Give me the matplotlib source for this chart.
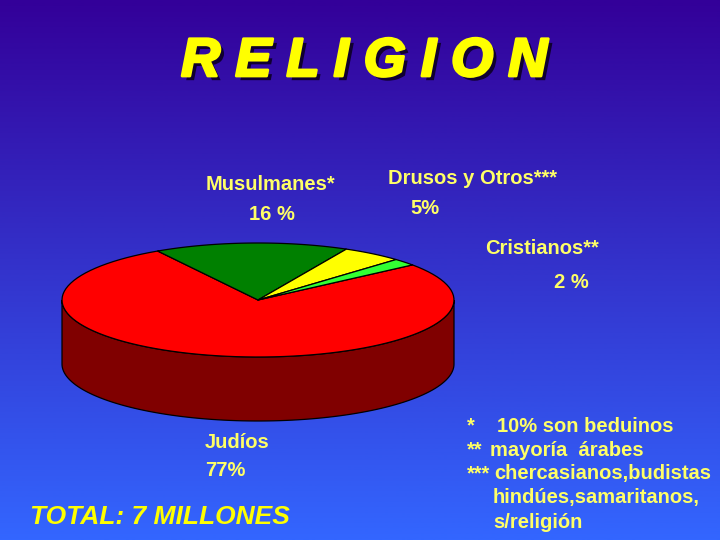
import numpy as np
import matplotlib.pyplot as plt
import matplotlib.patheffects as pe
from matplotlib.patches import Polygon

# data
religiones = ['Judíos', 'Musulmanes*', 'Drusos y Otros***', 'Cristianos**']
porcentajes = [77, 16, 5, 2]
etiquetas_pct = ['77%', '16 %', '5%', '2 %']
colores = ['#ff0000', '#008000', '#ffff00', '#33ff33']
colores_lado = ['#800000', '#004000', '#808000', '#1a801a']
marcas = ['*', '**', '***', '', '']
notas = ['10% son beduinos', 'mayoría  árabes', 'chercasianos,budistas',
         'hindúes,samaritanos,', 's/religión']

plt.rcParams['font.family'] = ['Liberation Sans', 'DejaVu Sans']

fig = plt.figure(figsize=(7.2, 5.4), dpi=100)
ax = fig.add_axes([0, 0, 1, 1])
ax.set_xlim(0, 720)
ax.set_ylim(540, 0)
ax.axis('off')

# background gradient
top = np.array([51, 0, 153]) / 255
bot = np.array([51, 102, 255]) / 255
t = np.linspace(0, 1, 256)[:, None]
grad = (top * (1 - t) + bot * t)[:, None, :]
ax.imshow(grad, extent=[0, 720, 540, 0], aspect='auto', zorder=0)

# title
ax.text(364, 62, 'R E L I G I O N', color='#ffff00', fontsize=39,
        fontweight='bold', style='italic', ha='center', va='center',
        path_effects=[pe.withSimplePatchShadow(offset=(3, -3),
                                               shadow_rgbFace='#100030', alpha=1),
                      pe.withStroke(linewidth=2, foreground='#ffff00')],
        zorder=5)

# 3D pie
cx, cy, rx, ry, depth = 258, 300, 196, 57, 64
start = 38.0
angs = []
a = start
for v in porcentajes[::-1]:
    angs.append((a, a + v * 3.6))
    a += v * 3.6
angs = angs[::-1]


def arc(a0, a1, dy=0, n=100):
    th = np.radians(np.linspace(a0, a1, n))
    return np.column_stack([cx + rx * np.cos(th), cy - ry * np.sin(th) + dy])


# sides (front half: 180..360 deg)
for (a0, a1), col in zip(angs, colores_lado):
    for k in (-360, 0, 360):
        lo = max(a0 + k, 180)
        hi = min(a1 + k, 360)
        if hi > lo:
            up = arc(lo, hi)
            dn = arc(hi, lo, dy=depth)
            ax.add_patch(Polygon(np.vstack([up, dn]), closed=True, fc=col,
                                 ec='black', lw=0.9, zorder=2))

# tops
for (a0, a1), col in zip(angs, colores):
    pts = np.vstack([[cx, cy], arc(a0, a1)])
    ax.add_patch(Polygon(pts, closed=True, fc=col, ec='black', lw=0.9,
                         joinstyle='round', zorder=3))

# labels
txt = dict(color='#ffff66', fontsize=14.5, fontweight='bold', zorder=5)
ax.text(270, 185, religiones[1], ha='center', va='center', **txt)
ax.text(272, 214, etiquetas_pct[1], ha='center', va='center', **txt)
ax.text(472, 179, religiones[2], ha='center', va='center', **txt)
ax.text(425, 208, etiquetas_pct[2], ha='center', va='center', **txt)
ax.text(542, 248, religiones[3], ha='center', va='center', **txt)
ax.text(571, 283, etiquetas_pct[3], ha='center', va='center', **txt)
ax.text(205, 442, religiones[0], ha='left', va='center', **txt)
ax.text(205, 470, etiquetas_pct[0], ha='left', va='center', **txt)

notas_x = [497, 490, 494, 493, 493]
for i, (m, n) in enumerate(zip(marcas, notas)):
    y = 426 + i * 24
    if m:
        ax.text(467, y, m, ha='left', va='center', **txt)
    ax.text(notas_x[i], y, n, ha='left', va='center', **txt)

ax.text(30, 517, 'TOTAL: 7 MILLONES', color='#ffff00', fontsize=19,
        fontweight='bold', style='italic', ha='left', va='center', zorder=5)

fig.savefig('out.png', dpi=100)
